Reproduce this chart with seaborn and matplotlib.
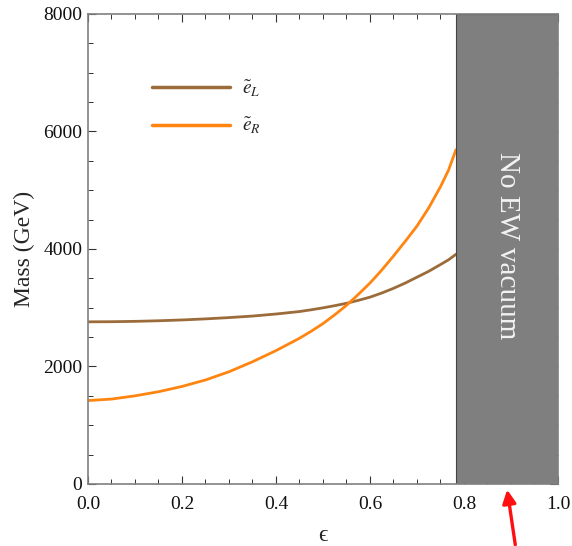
import numpy as np
import pandas as pd
import seaborn as sns
import matplotlib.pyplot as plt
from matplotlib.ticker import MultipleLocator

# values
eps = [0.0, 0.05, 0.10, 0.15, 0.20, 0.25, 0.30, 0.35, 0.40, 0.45, 0.475, 0.50,
       0.525, 0.55, 0.575, 0.60, 0.625, 0.65, 0.675, 0.70, 0.725, 0.75, 0.767, 0.783]
mass_eL = [2760, 2762, 2768, 2778, 2792, 2810, 2832, 2858, 2893, 2935, 2965, 2998,
           3035, 3075, 3125, 3180, 3250, 3330, 3420, 3520, 3620, 3735, 3815, 3910]
mass_eR = [1420, 1445, 1500, 1570, 1660, 1770, 1910, 2080, 2270, 2480, 2600, 2730,
           2880, 3040, 3225, 3420, 3640, 3880, 4130, 4390, 4700, 5060, 5340, 5690]
labels = [r'$\tilde{e}_L$', r'$\tilde{e}_R$']
colors = ['#9c6b3a', '#ff8510']
eps_max = 0.783  # no EW vacuum beyond this

df = pd.DataFrame({
    'eps': eps * 2,
    'mass': mass_eL + mass_eR,
    'state': [labels[0]] * len(eps) + [labels[1]] * len(eps),
})

sns.set_style('ticks')
plt.rcParams['font.family'] = ['Liberation Serif', 'DejaVu Serif']
plt.rcParams['mathtext.fontset'] = 'stix'

fig = plt.figure(figsize=(5.72, 5.46), dpi=100)
ax = fig.add_axes([0.1538, 0.1136, 0.8217, 0.8608])

sns.lineplot(data=df, x='eps', y='mass', hue='state', palette=dict(zip(labels, colors)),
             linewidth=2.0, ax=ax)

# excluded region
ax.axvspan(eps_max, 1.0, facecolor='#7f7f7f', edgecolor='#444444', linewidth=0.8, zorder=3)
ax.text((eps_max + 1.0) / 2, 4060, 'No EW vacuum', rotation=-90, ha='center', va='center',
        color='#f2f2f2', fontsize=21, zorder=4)

ax.set_xlim(0, 1)
ax.set_ylim(0, 8000)
ax.xaxis.set_major_locator(MultipleLocator(0.2))
ax.xaxis.set_minor_locator(MultipleLocator(0.05))
ax.yaxis.set_major_locator(MultipleLocator(2000))
ax.yaxis.set_minor_locator(MultipleLocator(500))
ax.xaxis.set_major_formatter(lambda v, p: f'{v:.1f}')
ax.tick_params(which='both', direction='in', top=True, right=True, color='#333333')
ax.tick_params(which='major', length=6, width=0.8, labelsize=14, pad=4, labelcolor='#111111')
ax.tick_params(axis='x', which='major', pad=9)
ax.tick_params(which='minor', length=3.5, width=0.7)
for s in ax.spines.values():
    s.set_color('#808080')
    s.set_linewidth(1.2)
    s.set_zorder(5)

ax.set_xlabel('\u03f5', fontsize=17, labelpad=8)
ax.set_ylabel('Mass (GeV)', fontsize=17, labelpad=6)

ax.legend(loc='upper left', bbox_to_anchor=(0.1, 0.9), frameon=False, fontsize=14,
          handlelength=4.0, labelspacing=0.9, handletextpad=0.6, title=None)
for h in ax.get_legend().get_lines():
    h.set_linewidth(2.5)

# red arrow pointing at the excluded band
ax.annotate('', xy=(0.891, -50), xycoords='data', xytext=(0.91, -0.135),
            textcoords=('data', 'axes fraction'),
            arrowprops=dict(arrowstyle='-|>', color='#ff1010', lw=2.4, mutation_scale=20),
            annotation_clip=False)

fig.savefig('out.png', dpi=100)
